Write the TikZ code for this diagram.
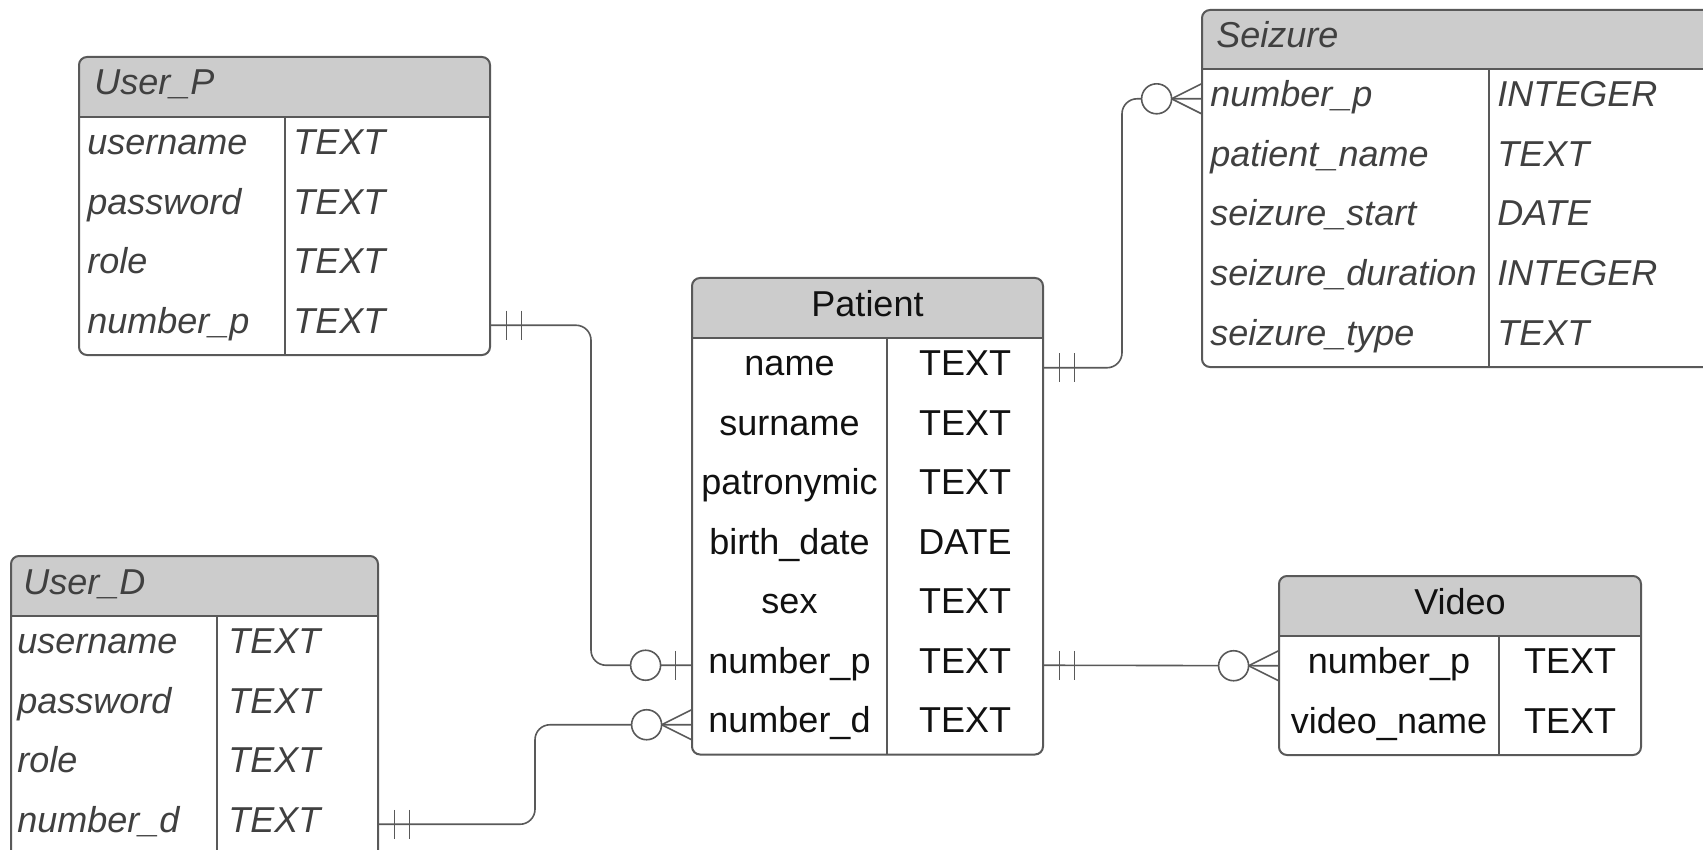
\documentclass[tikz,border=0pt]{standalone}
\usepackage{fontspec}
\setmainfont{Liberation Sans}
\usetikzlibrary{fit}
\definecolor{hdr}{HTML}{CCCCCC}
\definecolor{edgec}{HTML}{595959}
\definecolor{itxt}{HTML}{404040}
\definecolor{ntxt}{HTML}{111111}
\tikzset{
  frame/.style={draw=edgec, line width=1pt},
  conn/.style={draw=edgec, line width=0.8pt, rounded corners=7.5pt},
  tickln/.style={draw=edgec, line width=0.8pt},
  ilbl/.style={font=\fontsize{18}{20}\selectfont\itshape, text=itxt, anchor=base west, inner sep=0pt},
  clbl/.style={font=\fontsize{18}{20}\selectfont, text=ntxt, anchor=base, inner sep=0pt},
}
% table frame: name, x1, y1, x2, y2, y header bottom, x divider
\newcommand{\ertable}[7]{%
  \node[fit={(#2,#3)(#4,#5)}, inner sep=0pt] (#1) {};
  \fill[white, rounded corners=4pt] (#2,#3) rectangle (#4,#5);
  \begin{scope}
    \clip[rounded corners=4pt] (#2,#3) rectangle (#4,#5);
    \fill[hdr] (#2,#3) rectangle (#4,#6);
  \end{scope}
  \draw[frame] (#2,#6) -- (#4,#6) (#7,#6) -- (#7,#5);
  \draw[frame, rounded corners=4pt] (#2,#3) rectangle (#4,#5);
}
% rows: prefix, x1, x2, y header bottom, row height, x name, x type, style, list
\newcommand{\errows}[9]{%
  \foreach \n/\t [count=\i] in {#9}{%
    \pgfmathsetmacro\ya{#4+(\i-1)*#5}%
    \pgfmathsetmacro\yb{#4+\i*#5}%
    \pgfmathsetmacro\yc{#4+(\i-0.5)*#5+8}%
    \node[fit={(#2,\ya)(#3,\yb)}, inner sep=0pt] (#1-r\i) {};
    \node[#8] (#1-n\i) at (#6,\yc) {\n};
    \node[#8] (#1-t\i) at (#7,\yc) {\t};
  }%
}
\newcommand{\dticks}[1]{%
  \draw[tickln] (#1) ++(16,-14.5) -- ++(0,29) (#1) ++(31,-14.5) -- ++(0,29);
}
\newcommand{\crowfoot}[1]{%
  \draw[tickln] (#1) ++(0,-15) -- ++(-30,15) -- ++(30,15);
  \draw[tickln, fill=white] (#1) ++(-45,0) circle[radius=15];
}
\begin{document}
\begin{tikzpicture}[x=0.5pt,y=-0.5pt]
\useasboundingbox (0,0) rectangle (1703,850);
\clip (0,0) rectangle (1703,850);

% User_P
\ertable{UP}{79}{57}{490}{355}{117}{285}
\node[ilbl] (UP-h) at (94,95) {User\_P};
\errows{UP}{79}{490}{117}{59.5}{87}{293}{ilbl}{username/TEXT,password/TEXT,role/TEXT,number\_p/TEXT}

% User_D
\ertable{UD}{11}{556}{378}{880}{616}{217}
\node[ilbl] (UD-h) at (23,594) {User\_D};
\errows{UD}{11}{378}{616}{59.5}{17}{228}{ilbl}{username/TEXT,password/TEXT,role/TEXT,number\_d/TEXT}

% Patient
\ertable{P}{692}{278}{1043}{754.5}{338}{887}
\node[clbl] (P-h) at (867.5,316) {Patient};
\errows{P}{692}{1043}{338}{59.5}{789.5}{965}{clbl}{name/TEXT,surname/TEXT,patronymic/TEXT,birth\_date/DATE,sex/TEXT,number\_p/TEXT,number\_d/TEXT}

% Seizure
\ertable{S}{1202}{10}{1760}{367}{69}{1489}
\node[ilbl] (S-h) at (1216,47.5) {Seizure};
\errows{S}{1202}{1760}{69}{59.6}{1210}{1497}{ilbl}{number\_p/INTEGER,patient\_name/TEXT,seizure\_start/DATE,seizure\_duration/INTEGER,seizure\_type/TEXT}

% Video
\ertable{V}{1279}{576}{1641}{755}{636}{1499}
\node[clbl] (V-h) at (1460,614) {Video};
\errows{V}{1279}{1641}{636}{59.5}{1389}{1570}{clbl}{number\_p/TEXT,video\_name/TEXT}

% connectors
\coordinate (bA) at (591,0);
\coordinate (bB) at (535,0);
\coordinate (bC) at (1122,0);
\draw[conn] (UP-r4.east) -| (bA |- P-r6.west) -- (P-r6.west);
\draw[conn] (UD-r4.east) -| (bB |- P-r7.west) -- (P-r7.west);
\draw[conn] (P-r1.east) -| (bC |- S-r1.west) -- (S-r1.west);
\draw[conn] (P-r6.east) -- (V-r1.west);

\dticks{UP-r4.east}
\dticks{UD-r4.east}
\dticks{P-r1.east}
\dticks{P-r6.east}

% zero or one at Patient.number_p
\draw[tickln] (P-r6.west) ++(-16,-14.5) -- ++(0,29);
\draw[tickln, fill=white] (P-r6.west) ++(-46,0) circle[radius=15];

% zero or many
\crowfoot{P-r7.west}
\crowfoot{S-r1.west}
\crowfoot{V-r1.west}
\end{tikzpicture}
\end{document}
